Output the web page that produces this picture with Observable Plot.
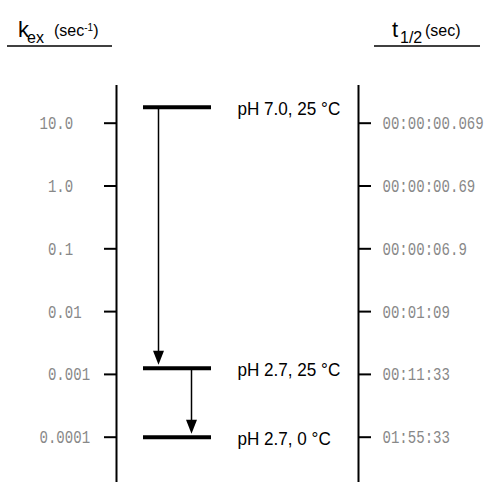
<!DOCTYPE html>
<html><head><meta charset="utf-8">
<script src="https://cdn.jsdelivr.net/npm/d3@7"></script>
<script src="https://cdn.jsdelivr.net/npm/@observablehq/plot@0.6"></script>
<style>
body{margin:0;background:#fff}
</style>
</head><body><div id="chart"></div>
<script>
// ---- data ----
const kTicks = [10, 1, 0.1, 0.01, 0.001, 0.0001];
const kTickLabels = ["10.0", "\u00a01.0", "\u00a00.1", "\u00a00.01", "\u00a00.001", "0.0001"];
const tHalfLabels = ["00:00:00.069", "00:00:00.69", "00:00:06.9", "00:01:09", "00:11:33", "01:55:33"];
const conditions = ["pH 7.0, 25 \u00b0C", "pH 2.7, 25 \u00b0C", "pH 2.7, 0 \u00b0C"];
const kex = [18, 0.00125, 0.0001];
const transitions = [[0, 1], [1, 2]];

// ---- layout (pixels) ----
const L = {labelL: 39, tickL1: 104, axisL: 116, barX1: 143, barX2: 211, arrowX: [158, 191],
           condX: 237, axisR: 358, tickR2: 371, labelR: 382, axisTop: 85};

const arrows = transitions.map(([a, b], i) => ({x: L.arrowX[i], from: kex[a], to: kex[b]}));
const ticks = kTicks.map((k, i) => ({k, kl: kTickLabels[i], tl: tHalfLabels[i]}));

const arrowHead = {draw(ctx) { const w = 11, h = 14; ctx.moveTo(0, 0); ctx.lineTo(-w / 2, -h); ctx.lineTo(w / 2, -h); ctx.closePath(); }};
const mono = "'Liberation Mono', 'DejaVu Sans Mono', monospace";
const sans = "'Liberation Sans', Arial, sans-serif";

const plot = Plot.plot({
  width: 487, height: 482,
  marginTop: 0, marginRight: 0, marginBottom: 0, marginLeft: 0,
  style: {background: "#fff", overflow: "visible"},
  x: {type: "identity", axis: null},
  y: {type: "log", domain: [1e-4, 10], range: [436.7, 122.7], axis: null},
  marks: [
    Plot.ruleX([L.axisL, L.axisR], {insetTop: L.axisTop, strokeWidth: 2, stroke: "#000"}),
    Plot.ruleY(ticks, {y: "k", x1: L.tickL1, x2: L.axisL, strokeWidth: 2, stroke: "#000"}),
    Plot.ruleY(ticks, {y: "k", x1: L.axisR, x2: L.tickR2, strokeWidth: 2, stroke: "#000"}),
    Plot.text(ticks, {x: L.labelL, y: "k", text: "kl", textAnchor: "start", fontFamily: mono, fontSize: 19, fill: "#888", ariaLabel: () => "mono"}),
    Plot.text(ticks, {x: L.labelR, y: "k", text: "tl", textAnchor: "start", fontFamily: mono, fontSize: 19, fill: "#888", ariaLabel: () => "mono"}),
    Plot.ruleY(kex, {y: d => d, x1: L.barX1, x2: L.barX2, strokeWidth: 4, stroke: "#000"}),
    Plot.ruleX(arrows, {x: "x", y1: "from", y2: "to", insetTop: 2, insetBottom: 12, strokeWidth: 1.5, stroke: "#000"}),
    Plot.dot(arrows, {x: "x", y: "to", symbol: arrowHead, r: 5, fill: "#000", stroke: null, dy: -3.5}),
    Plot.text(kex, {x: L.condX, y: d => d, text: (d, i) => conditions[i], textAnchor: "start", fontFamily: sans, fontSize: 19, fill: "#000", dy: 2, ariaLabel: () => "cond"})
  ]
});
document.getElementById("chart").appendChild(plot);

const svg = d3.select(plot);
// horizontally condense text around its anchor (start) point
function condense(sel, s) {
  sel.each(function () {
    const t = this.getAttribute("transform") || "";
    this.setAttribute("transform", `${t} scale(${s},1)`);
  });
}
condense(svg.selectAll('text[aria-label="mono"]'), 0.74);
condense(svg.selectAll('text[aria-label="cond"]'), 0.9);

// ---- column headers ----
const hdr = svg.append("g").attr("font-family", sans).attr("fill", "#000").attr("text-anchor", "start");
const h1 = hdr.append("text").attr("x", 18).attr("y", 37);
h1.append("tspan").attr("font-size", 22).text("k");
h1.append("tspan").attr("font-size", 16).attr("x", 27).attr("dy", 6).text("ex");
h1.append("tspan").attr("font-size", 16).attr("x", 54).attr("dy", -7).text("(sec");
h1.append("tspan").attr("font-size", 10).attr("dy", -5).text("-1");
h1.append("tspan").attr("font-size", 16).attr("dy", 5).text(")");
const h2 = hdr.append("text").attr("x", 392).attr("y", 37);
h2.append("tspan").attr("font-size", 22).text("t");
h2.append("tspan").attr("font-size", 16).attr("x", 400).attr("dy", 6).text("1/2");
h2.append("tspan").attr("font-size", 16).attr("x", 425).attr("dy", -7).text("(sec)");
hdr.append("line").attr("x1", 7).attr("x2", 112).attr("y1", 46).attr("y2", 46).attr("stroke", "#000").attr("stroke-width", 1.5);
hdr.append("line").attr("x1", 374).attr("x2", 480).attr("y1", 46).attr("y2", 46).attr("stroke", "#000").attr("stroke-width", 1.5);
</script>
</body></html>
